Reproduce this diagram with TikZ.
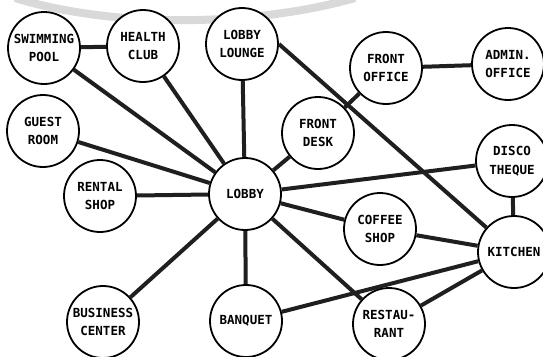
\documentclass[tikz,border=0pt]{standalone}
\usepackage{fontspec}
\newfontfamily\pixfont{DejaVu Sans Mono}
\begin{document}
\begin{tikzpicture}[x=1pt,y=-1pt,
  room/.style={circle,draw=black,line width=1.8pt,fill=white,minimum size=72pt,inner sep=0pt,
    align=center,font=\pixfont\bfseries\fontsize{12.5}{18.5}\selectfont},
  link/.style={line width=4pt,black!88}]
\useasboundingbox (0,0) rectangle (543,356);
\fill[white] (0,0) rectangle (543,356);
% faint watermark arc
\draw[line width=8pt,black!15] (15,-2) .. controls (120,30) and (260,25) .. (355,-2);
% nodes
\node[room] (swim) at (44,48) {SWIMMING\\POOL};
\node[room] (health) at (143,46) {HEALTH\\CLUB};
\node[room] (lounge) at (242,44) {LOBBY\\LOUNGE};
\node[room] (guest) at (43,131) {GUEST\\ROOM};
\node[room] (rental) at (100,196) {RENTAL\\SHOP};
\node[room] (lobby) at (245,194) {LOBBY};
\node[room] (business) at (103,322) {BUSINESS\\CENTER};
\node[room] (banquet) at (246,321) {BANQUET};
\node[room] (foffice) at (386,68) {FRONT\\OFFICE};
\node[room] (admin) at (508,64) {ADMIN.\\OFFICE};
\node[room] (fdesk) at (318,133) {FRONT\\DESK};
\node[room] (disco) at (512,161) {DISCO\\THEQUE};
\node[room] (coffee) at (380,229) {COFFEE\\SHOP};
\node[room] (kitchen) at (514,252) {KITCHEN};
\node[room] (rest) at (389,324) {RESTAU-\\RANT};
% connectors
\draw[link] (swim) -- (health);
\draw[link] (swim) -- (lobby);
\draw[link] (health) -- (lobby);
\draw[link] (lounge) -- (lobby);
\draw[link] (lounge.east) -- (kitchen);
\draw[link] (guest) -- (lobby);
\draw[link] (rental) -- (lobby);
\draw[link] (fdesk) -- (lobby);
\draw[link] (fdesk) -- (foffice);
\draw[link] (foffice) -- (admin);
\draw[link] (lobby) -- (disco);
\draw[link] (disco) -- (kitchen);
\draw[link] (lobby) -- (coffee);
\draw[link] (coffee) -- (kitchen);
\draw[link] (lobby) -- (rest);
\draw[link] (lobby) -- (banquet);
\draw[link] (lobby) -- (business);
\draw[link] (banquet) -- (kitchen);
\draw[link] (rest) -- (kitchen);
\end{tikzpicture}
\end{document}
